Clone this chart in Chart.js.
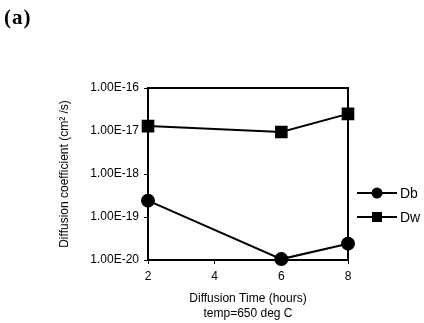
<!DOCTYPE html>
<html>
<head>
<meta charset="utf-8">
<script src="https://cdn.jsdelivr.net/npm/chart.js@4"></script>
<style>
  body { margin: 0; background: #fff; }
  #wrap { position: relative; width: 424px; height: 323px; }
  #label { position: absolute; left: 4px; top: 5px; font: bold 21px "Liberation Serif", serif; letter-spacing: 1px; color: #000; }
</style>
</head>
<body>
<div id="wrap">
  <canvas id="grafik" width="424" height="323"></canvas>
  <div id="label">(a)</div>
</div>
<script>
const hours = [2, 6, 8];
const dbValues = [2.4e-19, 1.05e-20, 2.4e-20];
const dwValues = [1.3e-17, 9.5e-18, 2.5e-17];
const xTicks = [2, 4, 6, 8];
const yTicks = [1e-20, 1e-19, 1e-18, 1e-17, 1e-16];

const font = { family: '"Liberation Sans", Arial, sans-serif', size: 12 };

// kotak di sekeliling area plot
const kotak = {
  id: 'kotak',
  afterDatasetsDraw(chart) {
    const { ctx, chartArea: a } = chart;
    ctx.save();
    ctx.strokeStyle = '#000';
    ctx.lineWidth = 2;
    ctx.strokeRect(a.left, a.top, a.right - a.left, a.bottom - a.top);
    ctx.restore();
  }
};

// legenda: garis dengan penanda di tengah
const legenda = {
  id: 'legenda',
  afterDraw(chart) {
    const ctx = chart.ctx;
    const x0 = 357, x1 = 397, tx = 400;
    const ys = [193, 217];
    ctx.save();
    chart.data.datasets.forEach((ds, i) => {
      const y = ys[i];
      ctx.strokeStyle = '#000';
      ctx.lineWidth = 2;
      ctx.beginPath();
      ctx.moveTo(x0, y);
      ctx.lineTo(x1, y);
      ctx.stroke();
      ctx.fillStyle = '#000';
      if (ds.pointStyle === 'rect') {
        ctx.fillRect(372, y - 5, 10, 10);
      } else {
        ctx.beginPath();
        ctx.arc(377, y, 5.5, 0, Math.PI * 2);
        ctx.fill();
      }
      ctx.font = '14px "Liberation Sans", Arial, sans-serif';
      ctx.textBaseline = 'middle';
      ctx.fillText(ds.label, tx, y + 1);
    });
    ctx.restore();
  }
};

const ctx = document.getElementById('grafik').getContext('2d');

const chart = new Chart(ctx, {
  type: 'line',
  data: {
    datasets: [{
      label: 'Db',
      data: hours.map((h, i) => ({ x: h, y: dbValues[i] })),
      borderColor: '#000',
      backgroundColor: '#000',
      borderWidth: 2,
      pointStyle: 'circle',
      pointRadius: 6,
      clip: false
    }, {
      label: 'Dw',
      data: hours.map((h, i) => ({ x: h, y: dwValues[i] })),
      borderColor: '#000',
      backgroundColor: '#000',
      borderWidth: 2,
      pointStyle: 'rect',
      pointRadius: 7.5,
      clip: false
    }]
  },
  options: {
    responsive: false,
    animation: false,
    layout: { padding: { left: 50, top: 88, right: 76, bottom: 0 } },
    plugins: {
      legend: { display: false },
      tooltip: { enabled: false }
    },
    scales: {
      x: {
        type: 'linear',
        min: 2,
        max: 8,
        afterBuildTicks(scale) { scale.ticks = xTicks.map(v => ({ value: v })); },
        afterFit(scale) { scale.height = 63; },
        grid: { drawOnChartArea: false, color: '#000', tickLength: 4 },
        border: { color: '#000', width: 2 },
        ticks: { color: '#000', font: font, padding: 5, maxRotation: 0 },
        title: {
          display: true,
          text: ['Diffusion Time (hours)', 'temp=650 deg C'],
          color: '#000',
          font: { family: font.family, size: 12, lineHeight: 1.25 },
          padding: { top: 0, bottom: 2 }
        }
      },
      y: {
        type: 'logarithmic',
        min: 1e-20,
        max: 1e-16,
        afterBuildTicks(scale) { scale.ticks = yTicks.map(v => ({ value: v })); },
        afterFit(scale) { scale.width = 98; },
        grid: { drawOnChartArea: false, color: '#000', tickLength: 4 },
        border: { color: '#000', width: 2 },
        ticks: {
          color: '#000',
          font: font,
          padding: 5,
          callback: v => Number(v).toExponential(2).toUpperCase()
        },
        title: {
          display: true,
          text: 'Diffusion coefficient (cm² /s)',
          color: '#000',
          font: font,
          padding: { top: 7, bottom: 0 }
        }
      }
    }
  },
  plugins: [kotak, legenda]
});
</script>
</body>
</html>
